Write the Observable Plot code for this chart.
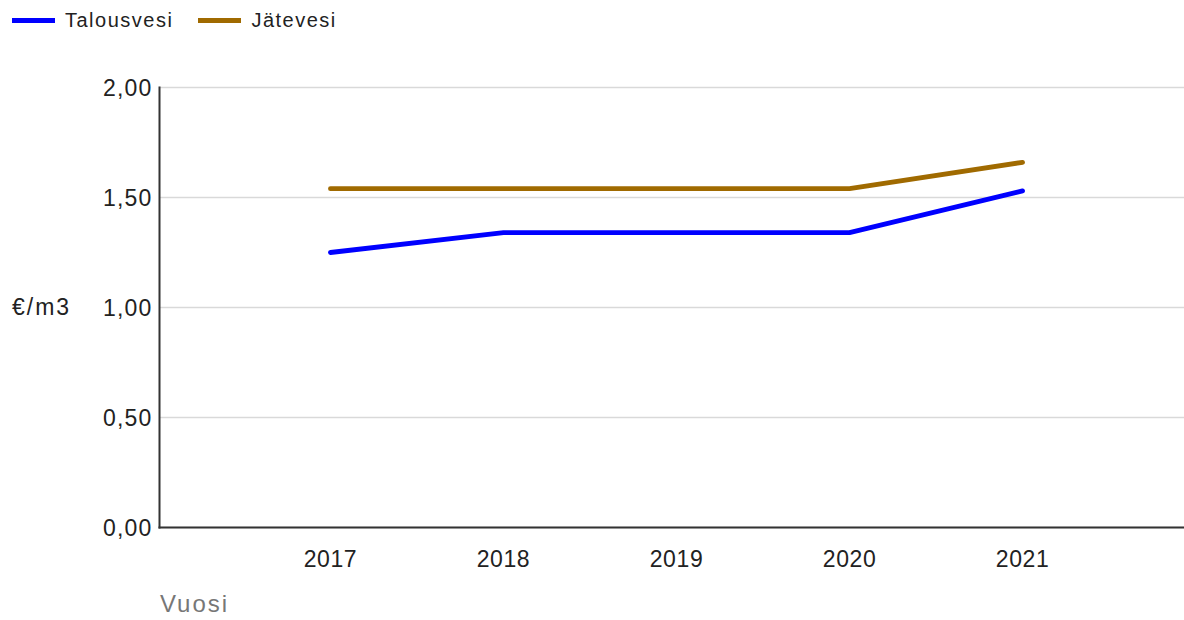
<!DOCTYPE html>
<html>
<head>
<meta charset="utf-8">
<script src="https://cdn.jsdelivr.net/npm/d3@7"></script>
<script src="https://cdn.jsdelivr.net/npm/@observablehq/plot@0.6"></script>
<style>
  html, body { margin: 0; padding: 0; background: #fff; }
  body { width: 1184px; height: 620px; position: relative; overflow: hidden; font-family: "Liberation Sans", Arial, sans-serif; }
  #chart { position: absolute; left: 0; top: 0; }
  .legend { position: absolute; left: 12px; top: 9px; display: flex; align-items: center; font-size: 20px; color: #222; letter-spacing: 1.5px; }
  .legend .item { display: flex; align-items: center; margin-right: 25px; }
  .legend .sw { width: 43px; height: 5px; margin-right: 10px; }
  .ylab { position: absolute; left: 12px; top: 294px; font-size: 23px; color: #222; letter-spacing: 2px; }
  .xlab { position: absolute; left: 160px; top: 590px; font-size: 24px; color: #777; letter-spacing: 2px; }
  #chart g[aria-label="y-axis tick label"] text { letter-spacing: 1.2px; }
  #chart g[aria-label="x-axis tick label"] text { letter-spacing: 0.6px; }
</style>
</head>
<body>
<div id="chart"></div>
<div class="legend" id="legend"></div>
<div class="ylab">€/m3</div>
<div class="xlab">Vuosi</div>
<script>
const years = [2017, 2018, 2019, 2020, 2021];
const talousvesi = [1.25, 1.34, 1.34, 1.34, 1.53];
const jatevesi = [1.54, 1.54, 1.54, 1.54, 1.66];
const seriesNames = ["Talousvesi", "Jätevesi"];
const seriesColors = ["#0000ff", "#a06a00"];
const yTicks = [0, 0.5, 1, 1.5, 2];

const data = [
  ...years.map((y, i) => ({year: y, value: talousvesi[i], series: seriesNames[0]})),
  ...years.map((y, i) => ({year: y, value: jatevesi[i], series: seriesNames[1]}))
];

const fmt = d => d.toFixed(2).replace(".", ",");

const chart = Plot.plot({
  width: 1184,
  height: 620,
  marginLeft: 159,
  marginRight: 0,
  marginTop: 87,
  marginBottom: 93,
  style: {fontFamily: "'Liberation Sans', Arial, sans-serif", background: "#fff", color: "#222"},
  x: {type: "linear", domain: [2016.012, 2021.936]},
  y: {domain: [0, 2]},
  color: {domain: seriesNames, range: seriesColors},
  marks: [
    Plot.gridY(yTicks, {stroke: "#d9d9d9", strokeOpacity: 1, strokeWidth: 1.3}),
    Plot.axisY(yTicks, {tickSize: 0, tickPadding: 7, tickFormat: fmt, fontSize: 23, label: null, dy: 1, fill: "#222"}),
    Plot.axisX(years, {tickSize: 0, tickPadding: 23, tickFormat: d => String(d), fontSize: 23, label: null, fill: "#222"}),
    Plot.frame({anchor: "left", stroke: "#333", strokeWidth: 2}),
    Plot.frame({anchor: "bottom", stroke: "#333", strokeWidth: 2}),
    Plot.line(data, {x: "year", y: "value", z: "series", stroke: "series", strokeWidth: 4.8, strokeLinecap: "round", strokeLinejoin: "round"})
  ]
});
document.getElementById("chart").appendChild(chart);

const legend = document.getElementById("legend");
seriesNames.forEach((name, i) => {
  const item = document.createElement("div");
  item.className = "item";
  const sw = document.createElement("span");
  sw.className = "sw";
  sw.style.background = seriesColors[i];
  const t = document.createElement("span");
  t.textContent = name;
  item.appendChild(sw);
  item.appendChild(t);
  legend.appendChild(item);
});
</script>
</body>
</html>
